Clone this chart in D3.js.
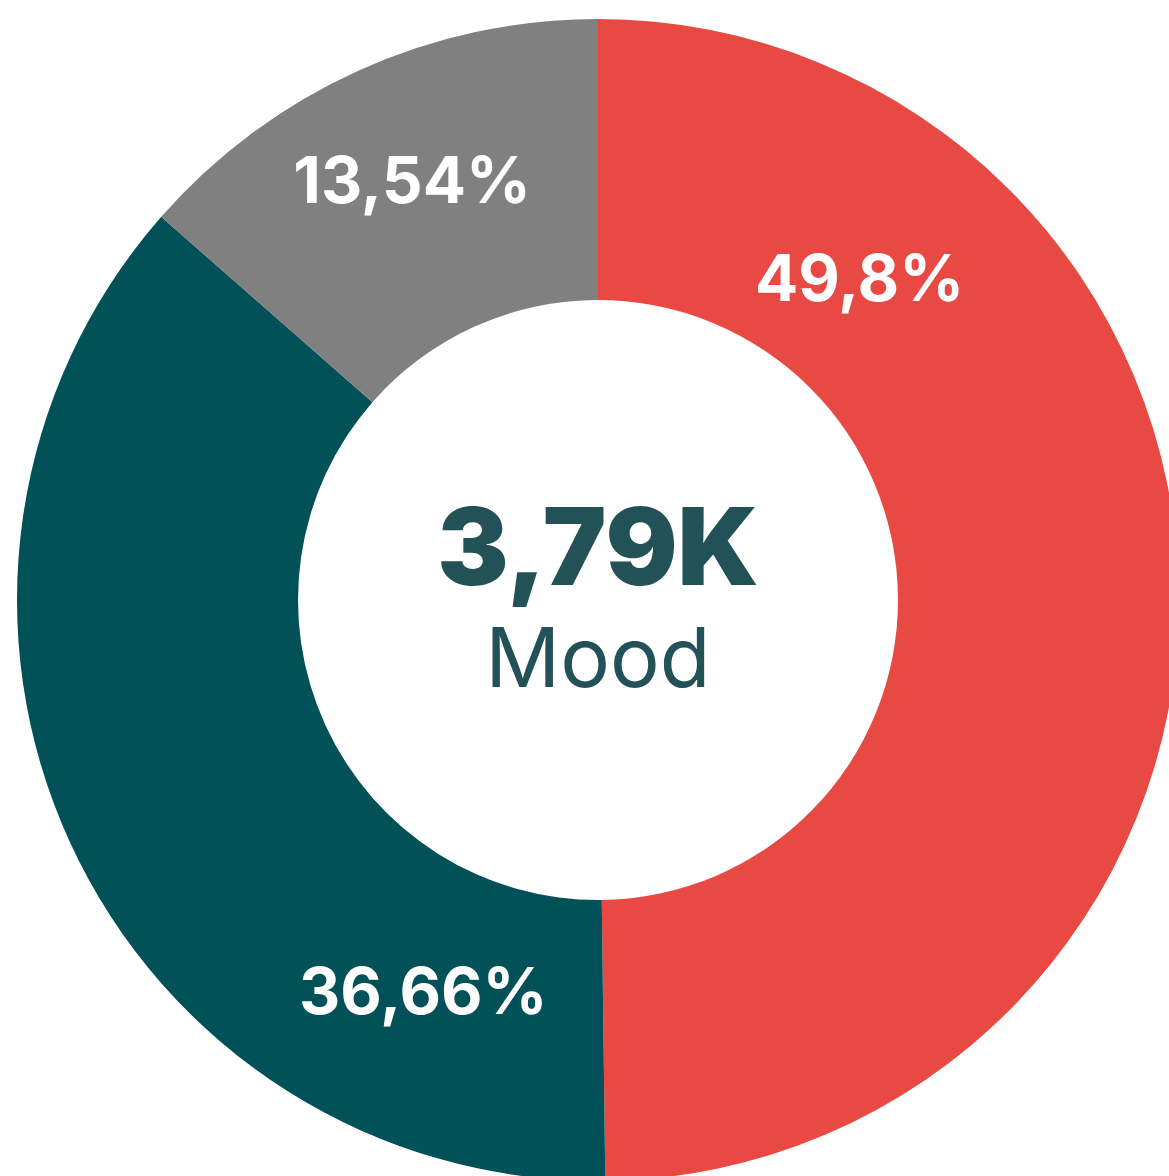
<!DOCTYPE html>
<html>
<head>
<meta charset="utf-8">
<script src="https://cdn.jsdelivr.net/npm/d3@7"></script>
<style>
  body { margin: 0; background: #fff; }
  svg { display: block; }
</style>
</head>
<body>
<div id="canvas"></div>
<script>
// data
const categories = ["A", "B", "C"];
const shares = [49.8, 36.66, 13.54];
const shareLabels = ["49,8%", "36,66%", "13,54%"];
const colors = ["#e84942", "#025058", "#808080"];
const totalLabel = "3,79K";
const measureName = "Mood";

// label placement (fraction along slice, radius)
const labelFrac = [0.218, 0.188, 0.51];
const labelRadius = [415, 428, 459];

const width = 1169;
const height = 1176;
const cx = 598, cy = 600;
const outerR = 581, innerR = 300;

const svg = d3.select("#canvas")
    .append("svg")
    .attr("width", width)
    .attr("height", height);

const plot = svg.append("g")
    .attr("transform", `translate(${cx}, ${cy})`);

const pie = d3.pie().sort(null).value(d => d.value);
const arcs = pie(categories.map((c, i) => ({ name: c, value: shares[i], i: i })));

const arc = d3.arc().innerRadius(innerR).outerRadius(outerR);

plot.selectAll("path")
    .data(arcs)
    .join("path")
    .attr("d", arc)
    .style("fill", d => colors[d.data.i]);

// slice labels
plot.selectAll(".lbl")
    .data(arcs)
    .join("text")
    .attr("class", "lbl")
    .attr("transform", d => {
        const i = d.data.i;
        const a = d.startAngle + (d.endAngle - d.startAngle) * labelFrac[i];
        const r = labelRadius[i];
        return `translate(${r * Math.sin(a)}, ${-r * Math.cos(a)})`;
    })
    .attr("text-anchor", "middle")
    .attr("dy", "0.36em")
    .style("font-family", "Inter, sans-serif")
    .style("font-weight", 700)
    .style("font-size", "64px")
    .style("fill", "#fff")
    .text(d => shareLabels[d.data.i]);

// center texts
plot.append("text")
    .attr("text-anchor", "middle")
    .attr("y", -15)
    .style("font-family", "Inter, sans-serif")
    .style("font-weight", 900)
    .style("font-size", "107px")
    .style("fill", "#235158")
    .text(totalLabel);

plot.append("text")
    .attr("text-anchor", "middle")
    .attr("y", 87)
    .style("font-family", "Inter, sans-serif")
    .style("font-weight", 400)
    .style("font-size", "83px")
    .style("fill", "#235158")
    .text(measureName);
</script>
</body>
</html>
